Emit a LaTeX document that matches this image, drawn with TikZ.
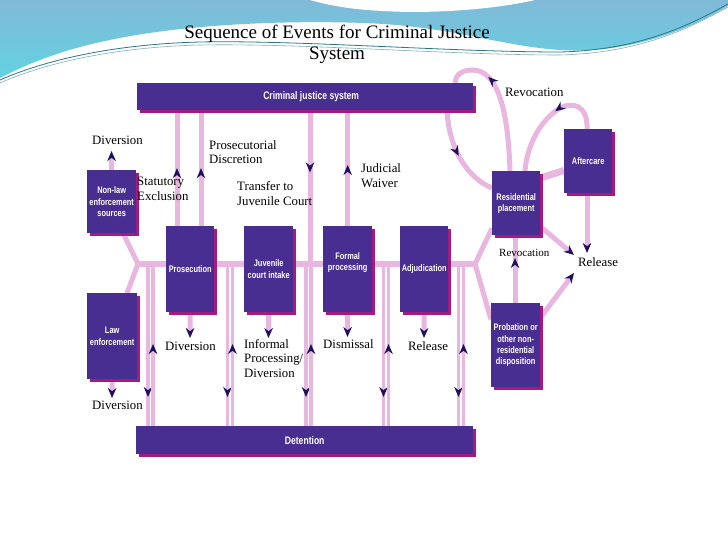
\documentclass[tikz,border=0pt]{standalone}
\usepackage{fontspec}
\setmainfont{Liberation Serif}
\setsansfont{Liberation Sans}
\newfontfamily\boxfont{Liberation Sans}[FakeStretch=0.78]
\usetikzlibrary{arrows.meta,shadows,decorations.markings,calc}
\definecolor{boxc}{RGB}{73,46,146}
\definecolor{shadc}{RGB}{165,25,130}
\definecolor{pinkc}{RGB}{232,182,222}
\definecolor{navyc}{RGB}{28,16,96}
\definecolor{bgtop}{RGB}{128,186,216}
\definecolor{bgbot}{RGB}{98,210,226}
\definecolor{wavec}{RGB}{40,120,140}
\pgfdeclarelayer{back}
\pgfdeclarelayer{bg}
\pgfsetlayers{back,bg,main}
\tikzset{
 box/.style={rectangle, fill=boxc, anchor=north west, inner sep=0pt, text=white,
   font=\boxfont\bfseries\fontsize{9.5}{11.3}\selectfont, align=center,
   drop shadow={shadow xshift=3pt, shadow yshift=-3pt, fill=shadc, opacity=1}},
 barfont/.style={font=\boxfont\bfseries\fontsize{11}{12}\selectfont},
 pl/.style={draw=pinkc, line width=5pt},
 dl/.style={draw=pinkc, line width=3.5pt},
 tipat/.style={postaction={decorate}, decoration={markings,
   mark=at position #1 with {\arrow{Stealth[length=10pt,width=8.5pt,color=navyc]}}}},
 endtip/.style={-{Stealth[length=10pt,width=8.5pt,color=navyc]}},
 lbl/.style={font=\fontsize{12.8}{14.5}\selectfont, align=left, anchor=west, inner sep=0pt},
}
\begin{document}
\begin{tikzpicture}[x=1pt,y=-1pt]
\useasboundingbox (0,0) rectangle (728,546);
\begin{pgfonlayer}{back}
\fill[white] (0,0) rectangle (728,546);
\shade[top color=bgtop, bottom color=bgbot] (0,0) -- (728,0) -- (728,6)
  .. controls (680,35) and (620,54) .. (560,50)
  .. controls (500,46) and (450,26) .. (364,23)
  .. controls (280,20) and (180,25) .. (110,40)
  .. controls (60,50) and (25,65) .. (0,78) -- cycle;
\fill[white] (310,0) .. controls (335,7) and (360,11) .. (410,12)
  .. controls (460,12) and (505,7) .. (535,0) -- cycle;
\draw[wavec, line width=0.8pt] (0,80) .. controls (50,58) and (120,44) .. (200,42)
  .. controls (300,40) and (450,52) .. (560,52) .. controls (640,50) and (690,25) .. (728,4);
\draw[wavec!60, line width=0.6pt] (0,83) .. controls (50,61) and (120,47) .. (200,45)
  .. controls (300,43) and (450,55) .. (560,55) .. controls (640,53) and (690,28) .. (728,7);
\end{pgfonlayer}

\node[font=\fontsize{19}{20.5}\selectfont, align=center, anchor=north, inner sep=0pt] (title) at (337,25)
  {Sequence of Events for Criminal Justice\\System};

% boxes
\node[box, minimum width=336pt, minimum height=27pt, barfont] (cjs) at (137,83) {\hspace*{12pt}Criminal justice system};
\node[box, minimum width=49pt, minimum height=63pt] (nonlaw) at (87,170) {Non-law\\enforcement\\sources};
\node[box, minimum width=50pt, minimum height=86pt] (law) at (87,293) {Law\\enforcement};
\node[box, minimum width=48pt, minimum height=86pt] (pros) at (166,226) {Prosecution};
\node[box, minimum width=49pt, minimum height=86pt] (juv) at (244,226) {Juvenile\\court intake};
\node[box, minimum width=49pt, minimum height=86pt] (formal) at (323,226) {Formal\\processing\\[4pt]};
\node[box, minimum width=48pt, minimum height=86pt] (adj) at (400,226) {Adjudication};
\node[box, minimum width=48pt, minimum height=64pt] (resid) at (492,171) {Residential\\placement};
\node[box, minimum width=48pt, minimum height=64pt] (after) at (564,129) {Aftercare};
\node[box, minimum width=49pt, minimum height=84pt] (prob) at (491,303) {Probation or\\other non-\\residential\\disposition};
\node[box, minimum width=337pt, minimum height=28pt, barfont] (det) at (136,426) {Detention};

% labels
\node[lbl] (lDivA) at (92,140) {Diversion};
\node[lbl] (lProsDisc) at (209,152) {Prosecutorial\\Discretion};
\node[lbl] (lStat) at (137,189) {Statutory\\Exclusion};
\node[lbl] (lTrans) at (237,193.5) {Transfer to\\Juvenile Court};
\node[lbl] (lJud) at (361,175.5) {Judicial\\Waiver};
\node[lbl] (lRev1) at (505,92) {Revocation};
\node[lbl, font=\fontsize{11}{13}\selectfont] (lRev2) at (499,253) {Revocation};
\node[lbl] (lRel1) at (578,262) {Release};
\node[lbl] (lDivB) at (165,346) {Diversion};
\node[lbl] (lInf) at (244,358.5) {Informal\\Processing/\\Diversion};
\node[lbl] (lDis) at (323,344) {Dismissal};
\node[lbl] (lRel2) at (408,346) {Release};
\node[lbl] (lDivC) at (92,405) {Diversion};

% coordinates
\coordinate (lb) at (138,264);
\coordinate (rb) at (475,264);
\coordinate (xa) at (177,0);
\coordinate (xb) at (201,0);
\coordinate (xc) at (310,0);
\coordinate (xe) at (447,0);
\coordinate (xf) at (510,0);
\coordinate (xg) at (455,0);
\coordinate (xh) at (587,0);
\coordinate (xi) at (525,0);
\coordinate (xj) at (515,0);
\coordinate (pk1) at (472,70);
\coordinate (pk2) at (557,110);
\coordinate (d1) at (111.5,151);
\coordinate (d2) at (112,398);
\coordinate (d3) at (190,338);
\coordinate (d4) at (268.5,338);
\coordinate (d5) at (347.5,337);
\coordinate (d6) at (424,338);
\coordinate (rel1) at (587,253);
\coordinate (rel2) at (574,255);
\coordinate (rel3) at (574,273);

\begin{pgfonlayer}{bg}
% main horizontal bar and branches
\draw[pinkc, line width=6pt] (lb) -- (rb);
\draw[pl] (lb) -- (nonlaw.-70);
\draw[pl] (lb) -- (law.71);
\draw[pl] (rb) -- (resid.226);
\draw[pl] (rb) -- (prob.134);
% to/from criminal justice system
\draw[pl, tipat=0.5] (pros.north -| xa) -- (cjs.south -| xa);
\draw[pl, tipat=0.5] (pros.north -| xb) -- (cjs.south -| xb);
\draw[pl, tipat=62pt] (cjs.south -| xc) -- (xc |- lb);
\draw[pl, tipat=61pt] (formal.north) -- (formal.north |- cjs.south);
% double lines to/from detention
\foreach \x [count=\i] in {150.5,230,308.5,386,461} {
  \coordinate (dl\i) at (\x-2.5,264);
  \coordinate (dr\i) at (\x+2.5,264);
  \draw[dl, tipat=133pt] (dl\i) -- (dl\i |- det.north);
  \draw[dl, tipat=82pt] (dr\i |- det.north) -- (dr\i);
}
% diversions etc.
\draw[pl, endtip] (nonlaw.north) -- (d1);
\draw[pl, endtip] (law.south) -- (d2);
\draw[pl, endtip] (pros.south) -- (d3);
\draw[pl, endtip] (juv.south) -- (d4);
\draw[pl, endtip] (formal.south) -- (d5);
\draw[pl, endtip] (adj.south) -- (d6);
% right side
\draw[pl, tipat=0.5] (cjs.south -| xe) .. controls (449,150) and (468,178) .. (resid.148);
\draw[pl, tipat=0.7] (resid.north -| xf) .. controls (508,110) and (498,70) .. (pk1)
   .. controls (461,70) and (455,76) .. (cjs.north -| xg);
\draw[pl, tipat=0.42] (after.north -| xh) .. controls (588,105) and (572,100) .. (pk2)
   .. controls (540,122) and (527,145) .. (resid.north -| xi);
\draw[pinkc, line width=7pt] (resid.46) -- (after.201);
\draw[pl, endtip] (after.south -| xh) -- (rel1);
\draw[pl, endtip] (resid.-44) -- (rel2);
\draw[pl, endtip] (prob.48) -- (rel3);
\draw[pl, tipat=45pt] (prob.north -| xj) -- (resid.south -| xj);
\end{pgfonlayer}
\end{tikzpicture}
\end{document}
